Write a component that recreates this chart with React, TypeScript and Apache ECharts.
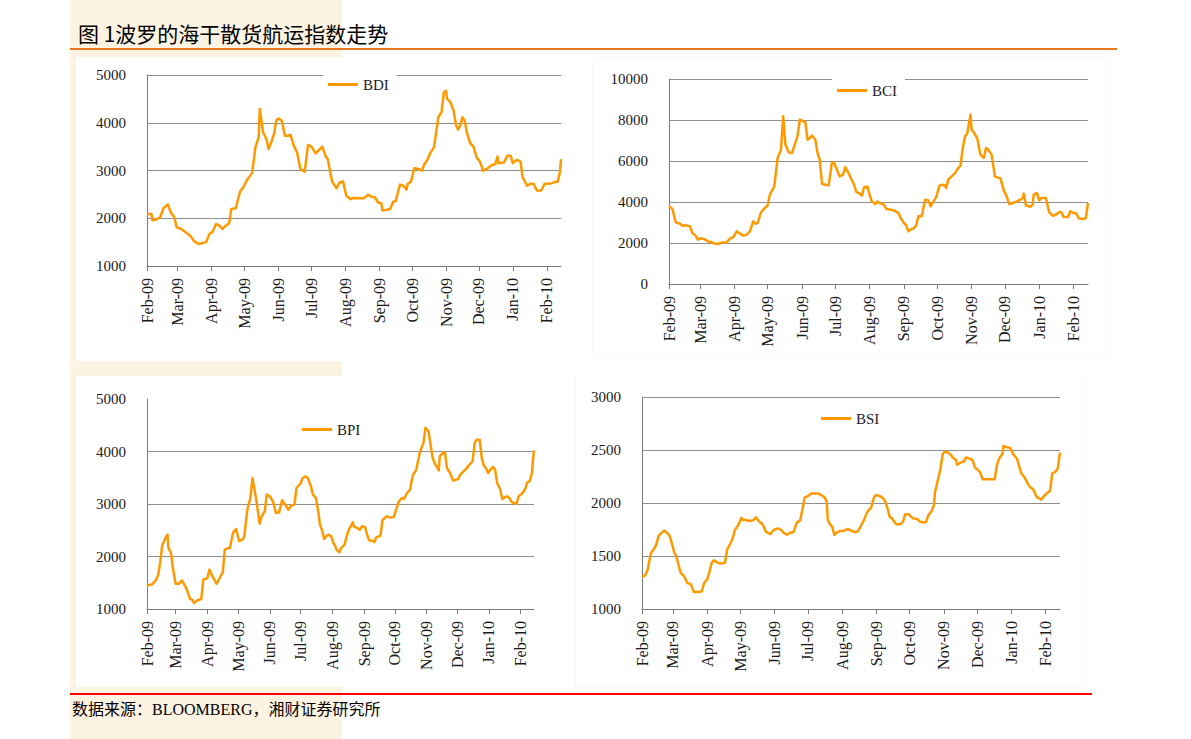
import React, { useEffect, useRef } from 'react';
import * as echarts from 'echarts';

// ---- axis / calendar ----
const START_UTC = Date.UTC(2009, 1, 1); // 1 Feb 2009 = day 0
const LAST_DAY = 378; // 14 Feb 2010
const MONTH_NAMES = ['Jan', 'Feb', 'Mar', 'Apr', 'May', 'Jun', 'Jul', 'Aug', 'Sep', 'Oct', 'Nov', 'Dec'];

// ---- texts ----
const TITLE = '图 1波罗的海干散货航运指数走势';
const SOURCE = '数据来源：BLOOMBERG，湘财证券研究所';

// ---- BDI (days since 1 Feb 2009, index value) ----
const bdiDays = [0,4,5,9,12,15,19,22,25,27,31,34,38,40,43,47,50,54,57,60,63,66,69,72,75,77,81,85,88,91,96,99,102,103,106,109,111,114,116,118,120,123,126,129,131,134,137,140,144,147,150,154,158,160,163,165,169,173,176,179,182,186,188,198,202,205,208,211,214,215,218,222,225,227,231,234,237,238,241,244,248,251,253,256,259,262,266,269,271,273,274,277,280,282,284,286,288,290,292,295,298,301,304,307,311,315,318,320,321,326,329,332,334,338,341,343,347,350,353,356,360,363,369,373,375,377,378];
const bdiValues = [2090,2090,1960,1980,2020,2210,2290,2110,2020,1810,1780,1730,1660,1620,1520,1460,1475,1500,1670,1720,1880,1845,1775,1845,1895,2195,2210,2560,2650,2790,2950,3490,3700,4290,3800,3660,3450,3625,3765,4050,4090,4045,3730,3730,3750,3520,3380,3030,2975,3535,3505,3360,3450,3500,3310,3240,2770,2630,2750,2770,2470,2400,2425,2420,2490,2450,2440,2330,2310,2160,2175,2195,2350,2355,2705,2680,2600,2720,2765,3045,3030,2995,3120,3225,3380,3485,4115,4230,4640,4670,4500,4430,4250,3970,3855,3940,4115,4045,3800,3575,3505,3275,3185,2995,3045,3115,3135,3290,3150,3170,3310,3310,3155,3225,3185,2860,2680,2720,2720,2580,2580,2720,2730,2765,2765,2960,3240];

// ---- BCI ----
const bciDays = [0,3,6,10,12,16,19,21,24,26,28,32,35,38,41,44,48,52,55,58,61,64,67,70,73,76,78,80,83,86,89,91,95,98,101,103,105,108,111,114,116,118,120,123,125,127,129,132,134,136,138,141,144,147,149,150,154,157,159,162,164,167,169,172,174,176,179,181,183,186,188,190,194,196,199,203,207,209,212,214,216,219,221,223,225,228,231,234,236,238,241,244,247,249,250,252,255,258,261,263,265,267,269,272,273,275,278,281,284,286,288,291,294,296,299,302,304,307,310,314,317,319,320,322,326,328,329,332,334,336,340,343,346,349,352,354,356,360,362,365,367,370,374,376,378];
const bciValues = [3790,3675,3010,2940,2845,2860,2810,2490,2360,2160,2230,2190,2080,2050,1970,1950,2030,2030,2210,2290,2570,2460,2360,2410,2570,3060,2940,2970,3500,3675,3840,4360,4760,6150,6550,8180,6800,6420,6390,6880,7240,8020,7970,7890,7040,7120,7240,7040,6390,6060,4890,4840,4810,5930,5900,5770,5250,5330,5700,5410,5170,4840,4490,4410,4310,4720,4760,4360,4030,3900,4030,3950,3870,3660,3630,3590,3460,3220,2970,2860,2570,2680,2730,2860,3300,3300,4110,4080,3790,3980,4240,4800,4840,4800,4680,5090,5250,5410,5660,5770,6630,7200,7330,8260,7530,7400,7120,6310,6150,6630,6550,6310,5250,5200,5150,4570,4360,3900,3950,4030,4110,4190,4410,3840,3760,3870,4360,4440,4080,4190,4190,3500,3330,3380,3510,3500,3270,3270,3550,3460,3460,3190,3170,3220,3950];

// ---- BPI ----
const bpiDays = [0,5,9,11,13,15,16,18,20,21,23,24,25,28,31,34,37,39,42,44,46,49,53,55,59,61,64,68,71,74,76,79,81,84,87,90,94,95,98,101,103,105,107,110,112,115,117,120,123,126,129,132,135,138,141,144,146,150,152,155,157,160,162,165,167,169,171,173,175,177,180,182,184,185,188,189,193,196,198,201,202,205,208,210,213,215,217,220,222,224,228,230,234,237,241,243,246,249,251,254,257,259,260,263,266,268,270,272,275,276,279,281,285,286,289,291,293,296,299,302,304,306,311,315,318,320,322,325,327,329,331,333,336,338,340,342,345,347,350,352,354,356,358,361,363,366,368,370,371,374,376,377,378];
const bpiValues = [1445,1470,1560,1655,1910,2225,2260,2355,2420,2160,2080,2005,1810,1480,1480,1545,1445,1370,1195,1180,1115,1165,1190,1560,1590,1750,1620,1480,1590,1700,2130,2160,2160,2450,2525,2290,2335,2385,2890,3115,3495,3275,3050,2625,2765,2860,3180,3145,3050,2830,2840,3070,2990,2890,2970,2990,3305,3390,3495,3525,3495,3350,3180,3115,2890,2605,2500,2335,2385,2415,2385,2260,2195,2130,2080,2145,2225,2450,2545,2650,2575,2545,2510,2575,2560,2415,2310,2300,2275,2365,2395,2690,2765,2745,2750,2870,3050,3115,3095,3210,3275,3495,3560,3655,3940,4065,4160,4450,4385,4255,3875,3780,3640,3910,3970,3985,3685,3590,3445,3465,3475,3560,3655,3750,3815,4160,4225,4225,3875,3730,3685,3590,3665,3705,3655,3400,3275,3095,3135,3145,3115,3040,3020,3005,3145,3195,3240,3315,3400,3445,3590,3845,4020];

// ---- BSI ----
const bsiDays = [0,3,5,8,11,13,15,18,20,23,25,27,29,31,33,35,38,41,44,47,50,54,56,59,61,63,65,68,70,75,77,80,82,84,87,90,91,94,97,101,103,106,109,112,116,119,123,126,128,131,134,137,140,143,146,147,150,153,155,159,162,165,167,168,170,172,174,176,179,182,186,189,193,195,198,201,203,205,207,210,212,215,218,220,222,224,226,228,230,234,236,238,241,243,245,249,251,255,257,259,262,264,265,268,270,272,274,277,279,281,284,285,287,290,291,293,296,299,301,304,306,308,312,319,321,323,326,327,330,333,336,339,343,346,349,351,354,357,359,361,363,366,369,371,374,376,377,378];
const bsiValues = [1303,1320,1365,1525,1570,1610,1690,1720,1740,1715,1690,1620,1540,1500,1415,1340,1310,1245,1235,1160,1160,1165,1240,1280,1350,1435,1460,1440,1430,1435,1560,1620,1665,1745,1790,1860,1840,1840,1830,1840,1865,1825,1800,1730,1705,1745,1760,1745,1720,1700,1720,1725,1815,1835,1985,2050,2065,2090,2090,2090,2075,2055,2015,1840,1800,1775,1700,1720,1735,1735,1755,1740,1725,1730,1785,1845,1900,1935,1950,2060,2075,2065,2045,2015,1950,1870,1855,1825,1800,1800,1825,1895,1895,1875,1855,1850,1825,1815,1825,1885,1925,1980,2105,2235,2330,2465,2485,2475,2455,2430,2405,2360,2375,2390,2390,2430,2420,2405,2335,2310,2285,2225,2225,2225,2360,2420,2465,2540,2525,2520,2455,2420,2280,2240,2180,2150,2125,2055,2045,2030,2060,2090,2115,2280,2295,2330,2405,2475];

// ---- value-axis ranges [min, max, interval] ----
const bdiAxis = [1000, 5000, 1000];
const bciAxis = [0, 10000, 2000];
const bpiAxis = [1000, 5000, 1000];
const bsiAxis = [1000, 3000, 500];

const SERIF = "'Liberation Serif', 'Times New Roman', serif";
const CJK = "'Noto Sans CJK SC', 'Noto Sans', sans-serif";
const LINE_COLOR = '#FF9900';
const GRID_COLOR = '#8e8e8e';
const AXIS_COLOR = '#7a7a7a';
const TEXT_COLOR = '#1a1a1a';

const pad2 = (n: number) => (n < 10 ? '0' + n : '' + n);
const dayLabels: string[] = [];
for (let i = 0; i <= LAST_DAY; i++) {
  const d = new Date(START_UTC + i * 86400000);
  dayLabels.push(`${d.getUTCFullYear()}-${pad2(d.getUTCMonth() + 1)}-${pad2(d.getUTCDate())}`);
}
const isMonthStart = (_i: number, v: string) => v.slice(8, 10) === '01';
const monthFmt = (v: string) => MONTH_NAMES[parseInt(v.slice(5, 7), 10) - 1] + '-' + v.slice(2, 4);

const panels = [
  { name: 'BDI', days: bdiDays, values: bdiValues, axis: bdiAxis, grid: { left: 147, top: 75, width: 414, height: 191 }, legend: { left: 323, top: 70 }, maxLine: true },
  { name: 'BCI', days: bciDays, values: bciValues, axis: bciAxis, grid: { left: 669, top: 79, width: 419, height: 205 }, legend: { left: 832, top: 76 }, maxLine: true },
  { name: 'BPI', days: bpiDays, values: bpiValues, axis: bpiAxis, grid: { left: 147, top: 399, width: 387, height: 210 }, legend: { left: 297, top: 415 }, maxLine: false },
  { name: 'BSI', days: bsiDays, values: bsiValues, axis: bsiAxis, grid: { left: 642, top: 397, width: 418, height: 212 }, legend: { left: 816, top: 404 }, maxLine: true },
];

export default function App() {
  const ref = useRef<HTMLDivElement>(null);

  useEffect(() => {
    if (!ref.current) return;
    const chart = echarts.init(ref.current, null, { renderer: 'svg' });

    const option: any = {
      animation: false,
      backgroundColor: '#ffffff',
      grid: panels.map((p) => ({ ...p.grid, containLabel: false })),
      xAxis: panels.map((_p, i) => ({
        type: 'category',
        gridIndex: i,
        data: dayLabels,
        boundaryGap: false,
        axisLine: { show: true, lineStyle: { color: AXIS_COLOR, width: 1 } },
        axisTick: { show: true, interval: isMonthStart, length: 5, inside: false, lineStyle: { color: AXIS_COLOR } },
        axisLabel: {
          interval: isMonthStart,
          rotate: 90,
          margin: 12,
          formatter: monthFmt,
          fontFamily: SERIF,
          fontSize: 16,
          color: TEXT_COLOR,
        },
        splitLine: { show: false },
      })),
      yAxis: panels.map((p, i) => ({
        type: 'value',
        gridIndex: i,
        min: p.axis[0],
        max: p.axis[1],
        interval: p.axis[2],
        axisLine: { show: true, lineStyle: { color: AXIS_COLOR, width: 1 } },
        axisTick: { show: false },
        axisLabel: { margin: 21, fontFamily: SERIF, fontSize: 15, color: TEXT_COLOR, formatter: (v: number) => String(v) },
        splitLine: { show: true, showMaxLine: p.maxLine, lineStyle: { color: GRID_COLOR, width: 1 } },
      })),
      legend: panels.map((p) => ({
        data: [p.name],
        left: p.legend.left,
        top: p.legend.top,
        orient: 'horizontal',
        icon: 'rect',
        itemWidth: 30,
        itemHeight: 3,
        itemGap: 10,
        padding: [7, 8, 7, 5],
        backgroundColor: '#ffffff',
        itemStyle: { color: LINE_COLOR, borderWidth: 0 },
        textStyle: { fontFamily: SERIF, fontSize: 15, color: TEXT_COLOR },
      })),
      series: panels.map((p, i) => ({
        name: p.name,
        type: 'line',
        xAxisIndex: i,
        yAxisIndex: i,
        data: p.days.map((d, k) => [d, p.values[k]]),
        symbol: 'none',
        lineStyle: { color: LINE_COLOR, width: 2.5, join: 'round' },
        itemStyle: { color: LINE_COLOR },
        z: 3,
      })),
      graphic: [
        { type: 'rect', z: -30, silent: true, shape: { x: 70, y: 0, width: 272, height: 739 }, style: { fill: '#FDF3E2' } },
        { type: 'rect', z: -20, silent: true, shape: { x: 76, y: 57, width: 506, height: 304 }, style: { fill: '#ffffff' } },
        { type: 'rect', z: -20, silent: true, shape: { x: 593, y: 57, width: 516, height: 301 }, style: { fill: '#ffffff', stroke: '#f8f8f8', lineWidth: 1 } },
        { type: 'rect', z: -20, silent: true, shape: { x: 76, y: 376, width: 494, height: 311 }, style: { fill: '#ffffff' } },
        { type: 'rect', z: -20, silent: true, shape: { x: 575, y: 376, width: 510, height: 311 }, style: { fill: '#ffffff', stroke: '#f8f8f8', lineWidth: 1 } },
        { type: 'line', z: 5, silent: true, shape: { x1: 70, y1: 49, x2: 1117, y2: 49 }, style: { stroke: '#E8781E', lineWidth: 2 } },
        { type: 'line', z: 5, silent: true, shape: { x1: 70, y1: 694, x2: 1092, y2: 694 }, style: { stroke: '#FF0000', lineWidth: 2 } },
        { type: 'text', z: 5, x: 78, y: 33, style: { text: TITLE, fontFamily: CJK, fontSize: 21, fill: '#000000', verticalAlign: 'middle', align: 'left' } },
        { type: 'text', z: 5, x: 72, y: 709, style: { text: SOURCE, fontFamily: "'Liberation Serif', 'Noto Sans CJK SC', serif", fontSize: 16, fill: '#000000', verticalAlign: 'middle', align: 'left' } },
      ],
    };

    chart.setOption(option);
    return () => chart.dispose();
  }, []);

  return (
    <div
      ref={ref}
      style={{ position: 'absolute', left: 0, top: 0, width: 1191, height: 739, background: '#ffffff' }}
    />
  );
}
